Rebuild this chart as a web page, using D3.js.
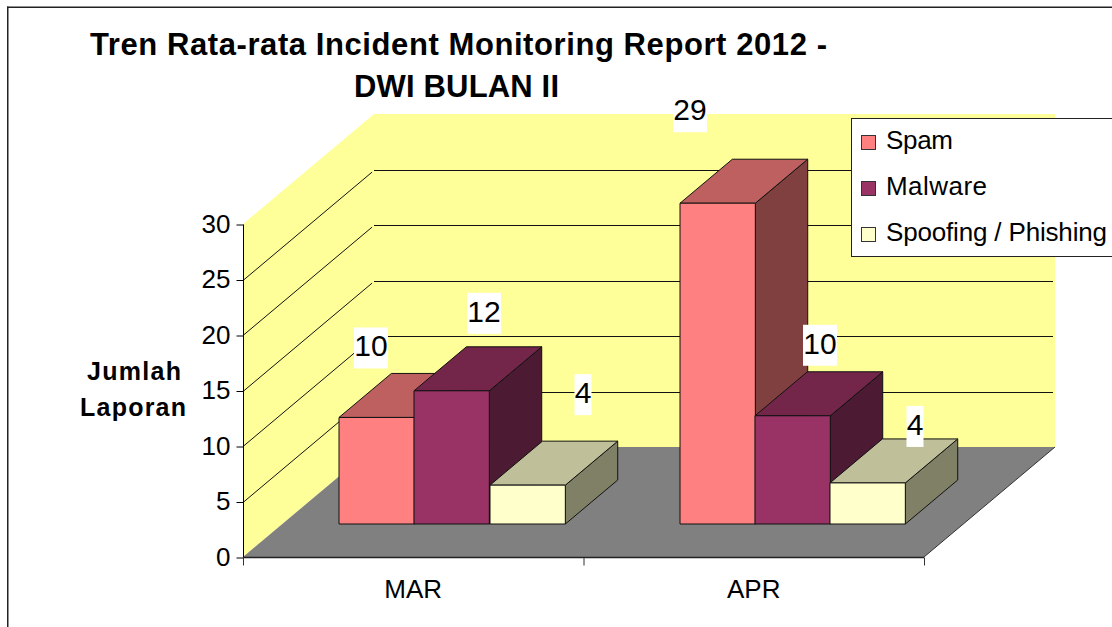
<!DOCTYPE html>
<html>
<head>
<meta charset="utf-8">
<script src="https://cdn.jsdelivr.net/npm/d3@7"></script>
<style>
html,body{margin:0;padding:0;background:#fff;overflow:hidden}
svg{display:block}
text{font-family:"Liberation Sans",Arial,sans-serif;fill:#000}
</style>
</head>
<body>
<svg id="c" width="1112" height="627"></svg>
<script>
const categories = ["MAR", "APR"];
const seriesNames = ["Spam", "Malware", "Spoofing / Phishing"];
const spam = [9.6, 28.9];
const malware = [12, 9.75];
const spoofing = [3.5, 3.7];
const yTicks = [0, 5, 10, 15, 20, 25, 30];

const faceColors = [
  {front:"#FF8080", top:"#BF6060", side:"#804040"},
  {front:"#993366", top:"#732649", side:"#4D1A33"},
  {front:"#FFFFCC", top:"#BFBF99", side:"#808066"}
];
// manual placement of data labels relative to each bar's front-top-left corner
const labelNudge = [
  [[32,-61],[70,-69],[93,-82]],
  [[10,-83],[65,-62],[85,-48]]
];

const svg = d3.select("#c");
const x0 = 243, x1 = 924, y0 = 557, y30 = 224;
const depthX = 131, depthY = 110;

const y = d3.scaleLinear().domain([0,30]).range([y0,y30]);
const x = d3.scaleBand().domain(categories).range([x0,x1]);
const xInner = d3.scaleBand().domain(d3.range(3)).range([0,226]);
const dx = d3.scaleLinear().domain([0,1]).range([0,depthX]);
const dy = d3.scaleLinear().domain([0,1]).range([0,-depthY]);
const unit = (y0-y30)/30;
const all = [spam, malware, spoofing];

// outer frame
svg.append("rect").attr("x",7).attr("y",6.5).attr("width",1105).attr("height",1.5).attr("fill","#222");
svg.append("rect").attr("x",7).attr("y",6.5).attr("width",1.5).attr("height",620.5).attr("fill","#222");

// title
const title = svg.append("g").attr("font-weight","bold").attr("font-size",31);
title.append("text").attr("x",90).attr("y",55).attr("textLength",737).attr("lengthAdjust","spacing")
  .text("Tren Rata-rata Incident Monitoring Report 2012 -");
title.append("text").attr("x",354).attr("y",97).attr("textLength",205).attr("lengthAdjust","spacing")
  .text("DWI BULAN II");

// walls
const line = d3.line();
svg.append("path").attr("fill","#FFFF99").attr("d",line([
  [x0,y(0)],[x0,y(30)],[x0+dx(1),y(30)+dy(1)],[x1+dx(1),y(30)+dy(1)],[x1+dx(1),y(0)+dy(1)],[x0+dx(1),y(0)+dy(1)]
])+"Z");
svg.append("path").attr("fill","#808080").attr("d",line([
  [x0,y(0)],[x1,y(0)],[x1+dx(1),y(0)+dy(1)],[x0+dx(1),y(0)+dy(1)]
])+"Z");
svg.append("path").attr("fill","none").attr("stroke","#333").attr("d",line([[x1,y(0)],[x1+dx(1),y(0)+dy(1)]]));

// gridlines (none along the top edge of the wall)
const grid = svg.append("g").attr("stroke","#111").attr("stroke-width",1).attr("fill","none");
yTicks.filter(t=>t>0 && t<30).forEach(t=>{
  const gy = Math.round(y(t))+.5;
  grid.append("path").attr("d",line([[x0,gy],[x0+dx(.985),gy+dy(.985)]]));
  grid.append("path").attr("d",line([[x0+dx(1),gy+dy(1)],[x1+dx(.985),gy+dy(1)]]));
});

// axes
const axL = d3.axisLeft(y).tickValues(yTicks).tickSize(7).tickPadding(6);
const gL = svg.append("g").attr("transform",`translate(${x0+.5},.5)`).call(axL);
gL.selectAll("text").attr("font-size",26).attr("font-family",'"Liberation Sans"').attr("dy",".3em");
gL.select(".domain").attr("d",`M0,${y30}V${y0}`).attr("stroke","#000");

const axB = d3.axisBottom(x).tickSize(0).tickPadding(22);
const gB = svg.append("g").attr("transform",`translate(0,${y0+.5})`).call(axB);
gB.select(".domain").attr("d",`M${x0},0H${x1}`).attr("stroke","#222").attr("stroke-width",1.5);
gB.selectAll("text").attr("font-size",26).attr("font-family",'"Liberation Sans"').attr("dy",".71em");
[x0, x0+x.bandwidth(), x1].forEach(v=>{
  gB.append("line").attr("x1",v+.5).attr("x2",v+.5).attr("y1",0).attr("y2",8).attr("stroke","#333");
});

// y axis title
const yt = svg.append("g").attr("font-weight","bold").attr("font-size",25).attr("text-anchor","middle");
yt.append("text").attr("x",134).attr("y",380).attr("textLength",94).attr("lengthAdjust","spacing").text("Jumlah");
yt.append("text").attr("x",133).attr("y",416).attr("textLength",106).attr("lengthAdjust","spacing").text("Laporan");

// bars
const zFront = .3, zBack = .7;
const barW = xInner.bandwidth();
const labels = [];
categories.forEach((cat,ci)=>{
  const g = svg.append("g").attr("stroke","#111").attr("stroke-width",1).attr("stroke-linejoin","round");
  const pad = (x.bandwidth()-226)/2;
  all.forEach((vals,si)=>{
    const v = vals[ci];
    const left = Math.floor(x(cat)+pad+xInner(si)+dx(zFront));
    const right = left+barW;
    const base = Math.round(y(0)+dy(zFront));
    const top = base - v*unit;
    const ox = dx(zBack-zFront), oy = dy(zBack-zFront);
    const c = faceColors[si];
    g.append("path").attr("fill",c.side).attr("d",line([[right,base],[right+ox,base+oy],[right+ox,top+oy],[right,top]])+"Z");
    g.append("path").attr("fill",c.top).attr("d",line([[left,top],[right,top],[right+ox,top+oy],[left+ox,top+oy]])+"Z");
    g.append("rect").attr("fill",c.front).attr("x",left).attr("y",top).attr("width",barW).attr("height",base-top);
    labels.push({v, x:left+labelNudge[ci][si][0], y:top+labelNudge[ci][si][1]});
  });
});

// data labels on white boxes
const fmt = d3.format(".0f");
labels.forEach(l=>{
  const s = fmt(l.v);
  const w = s.length*17;
  svg.append("rect").attr("x",l.x-w/2).attr("y",l.y-29).attr("width",w).attr("height",41).attr("fill","#fff");
  svg.append("text").attr("x",l.x).attr("y",l.y).attr("font-size",30).attr("text-anchor","middle").text(s);
});

// legend
const legend = svg.append("g");
legend.append("rect").attr("x",851.5).attr("y",118.5).attr("width",270).attr("height",138)
  .attr("fill","#fff").attr("stroke","#222");
seriesNames.forEach((n,i)=>{
  const ly = 135+46*i;
  legend.append("rect").attr("x",861.5).attr("y",ly+.5).attr("width",14).attr("height",14)
    .attr("fill",faceColors[i].front).attr("stroke","#333");
  legend.append("text").attr("x",886).attr("y",ly+14).attr("font-size",26)
    .attr("textLength",[67,101,221][i]).attr("lengthAdjust","spacing").text(n);
});
</script>
</body>
</html>
